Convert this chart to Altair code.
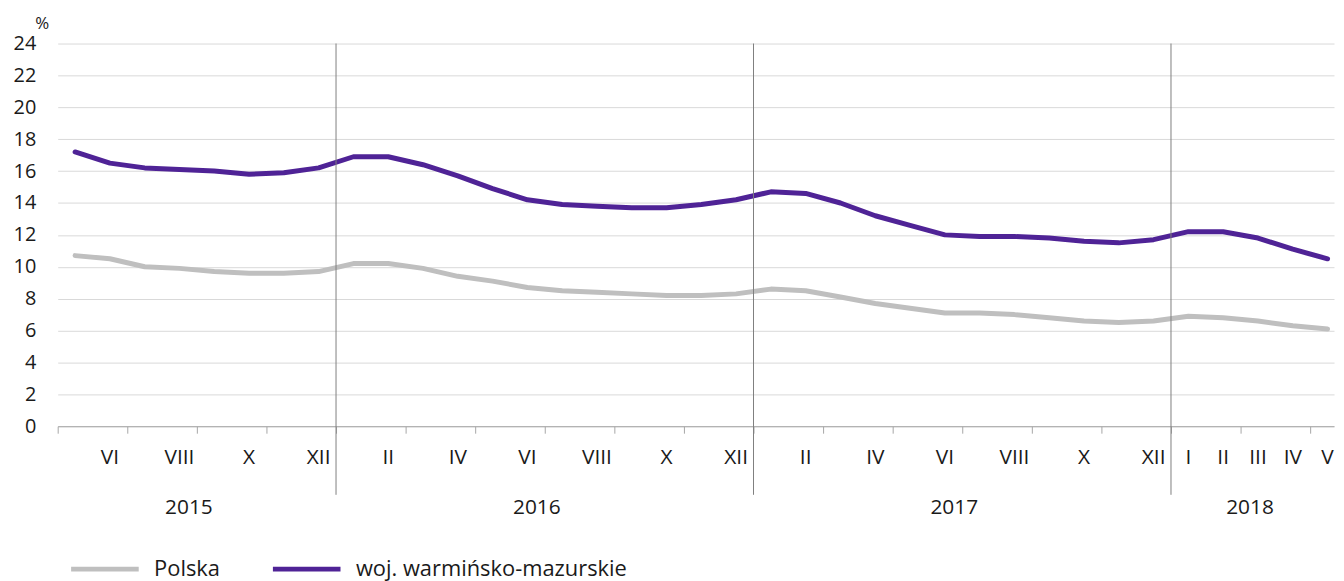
import altair as alt
import pandas as pd

# ---- data ----
years = [2015] * 8 + [2016] * 12 + [2017] * 12 + [2018] * 5
roman = ["I", "II", "III", "IV", "V", "VI", "VII", "VIII", "IX", "X", "XI", "XII"]
months = roman[4:] + roman + roman + roman[:5]
axis_labels = (
    ["", "VI", "", "VIII", "", "X", "", "XII"]
    + ["", "II", "", "IV", "", "VI", "", "VIII", "", "X", "", "XII"]
    + ["", "II", "", "IV", "", "VI", "", "VIII", "", "X", "", "XII"]
    + ["I", "II", "III", "IV", "V"]
)
polska = [10.7, 10.5, 10.0, 9.9, 9.7, 9.6, 9.6, 9.7,
          10.2, 10.2, 9.9, 9.4, 9.1, 8.7, 8.5, 8.4, 8.3, 8.2, 8.2, 8.3,
          8.6, 8.5, 8.1, 7.7, 7.4, 7.1, 7.1, 7.0, 6.8, 6.6, 6.5, 6.6,
          6.9, 6.8, 6.6, 6.3, 6.1]
warm = [17.2, 16.5, 16.2, 16.1, 16.0, 15.8, 15.9, 16.2,
        16.9, 16.9, 16.4, 15.7, 14.9, 14.2, 13.9, 13.8, 13.7, 13.7, 13.9, 14.2,
        14.7, 14.6, 14.0, 13.2, 12.6, 12.0, 11.9, 11.9, 11.8, 11.6, 11.5, 11.7,
        12.2, 12.2, 11.8, 11.1, 10.5]
series = ["Polska", "woj. warmińsko-mazurskie"]
colors = ["#bfbfbf", "#4f2396"]

n = len(months)
idx = list(range(n))
df = pd.DataFrame({
    "i": idx * 2,
    "v": polska + warm,
    "s": [series[0]] * n + [series[1]] * n,
})
df_lab = pd.DataFrame({"i": idx, "t": axis_labels})

# year separators and year label centres, derived from the data
sep = [i - 0.5 for i in range(1, n) if years[i] != years[i - 1]]
year_names = sorted(set(years))
year_pos = [sum(i for i in idx if years[i] == y) / years.count(y) for y in year_names]
df_sep = pd.DataFrame({"b": sep})
df_year = pd.DataFrame({"c": year_pos, "t": [str(y) for y in year_names]})

# ---- layout ----
W, H = 1284, 385
step = 35.0
lo = -0.5
hi = lo + W / step
FONT = "Open Sans"
TXT = "#1a1a1a"

x_scale = alt.Scale(domain=[lo, hi], nice=False, zero=False)

lines = alt.Chart(df).mark_line(strokeWidth=5, strokeCap="round", strokeJoin="round").encode(
    x=alt.X("i:Q", scale=x_scale,
            axis=alt.Axis(values=idx, labels=False, tickOffset=-step / 2,
                          grid=False, title=None, tickSize=7, tickColor="#a6a6a6",
                          domainColor="#a6a6a6")),
    y=alt.Y("v:Q", scale=alt.Scale(domain=[0, 24], nice=False),
            axis=alt.Axis(values=list(range(0, 25, 2)), grid=True, gridColor="#d9d9d9",
                          domain=False, ticks=False, labelPadding=22, labelFontSize=20,
                          labelFont=FONT, labelColor=TXT, title="%", titleAngle=0,
                          titleAlign="left", titleBaseline="alphabetic", titleX=-23, titleY=-15,
                          titleFont=FONT, titleFontSize=17, titleFontWeight="normal",
                          titleColor=TXT)),
    color=alt.Color("s:N", scale=alt.Scale(domain=series, range=colors),
                    legend=alt.Legend(orient="none", legendX=11, legendY=492,
                                      direction="horizontal", title=None,
                                      symbolType="stroke", symbolStrokeWidth=5,
                                      symbolSize=4624, labelFontSize=22, labelOffset=13,
                                      labelLimit=500, labelFont=FONT, columnPadding=42,
                                      labelColor=TXT)),
)

month_text = alt.Chart(df_lab).mark_text(fontSize=21, baseline="alphabetic", color=TXT, font=FONT).encode(
    x=alt.X("i:Q", scale=x_scale),
    y=alt.value(423),
    text="t:N",
)

rules = alt.Chart(df_sep).mark_rule(color="#7f7f7f", strokeWidth=1).encode(
    x=alt.X("b:Q", scale=x_scale),
    y=alt.value(0),
    y2=alt.value(454),
)

year_text = alt.Chart(df_year).mark_text(fontSize=21, baseline="alphabetic", color=TXT, font=FONT, dx=-8).encode(
    x=alt.X("c:Q", scale=x_scale),
    y=alt.value(473),
    text="t:N",
)

chart = alt.layer(lines, month_text, rules, year_text).properties(
    width=W, height=H,
    padding={"left": 50, "top": 34, "right": 2, "bottom": 160},
    autosize=alt.AutoSizeParams(type="none"),
    background="white",
).configure(font=FONT).configure_view(stroke=None)

chart.save("out.html", embed_options={"renderer": "svg", "actions": False})
